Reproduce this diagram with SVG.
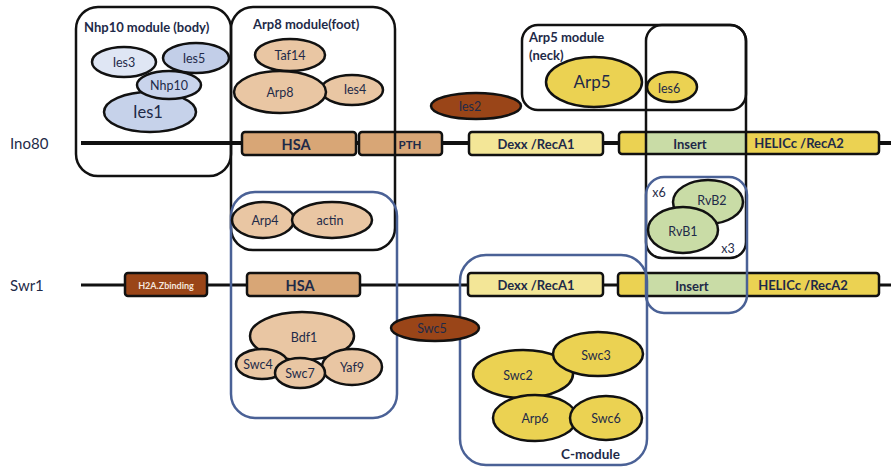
<svg xmlns="http://www.w3.org/2000/svg" width="891" height="469" viewBox="0 0 891 469">
<style>
text{font-family:Lato,"Liberation Sans",sans-serif;fill:#1e2a48;text-anchor:middle;dominant-baseline:central}
.mod{fill:none;stroke:#111;stroke-width:2.5}
.blue{fill:none;stroke:#4a6196;stroke-width:2.5}
.e{stroke:#111;stroke-width:2.5}
.dom{stroke:#111;stroke-width:2.5}
.tan{fill:#e9c6a3}
.hsa{fill:#d8a676}
.brown{fill:#9a4518}
.yel{fill:#ebd252}
.pale{fill:#f3e697}
.grn{fill:#c9dca6}
.dt{font-weight:bold;font-size:13px}
.t{font-size:12.5px}
.mt{font-weight:bold;font-size:13px;text-anchor:start}
.lbl{font-size:15px;text-anchor:start}
</style>

<!-- backbone lines -->
<g id="connectors">
<line x1="81" y1="143" x2="891" y2="143" stroke="#111" stroke-width="4"/>
<line x1="81" y1="285" x2="891" y2="285" stroke="#111" stroke-width="3"/>
</g>

<g id="labels">
<text class="lbl" x="10" y="143">Ino80</text>
<text class="lbl" x="10" y="285">Swr1</text>
</g>

<!-- Ino80 domains -->
<g id="ino80-hsa"><rect class="dom hsa" x="242" y="132" width="114" height="23" rx="3"/><text class="dt" x="296" y="144" style="font-size:14.5px">HSA</text></g>
<g id="ino80-pth"><rect class="dom hsa" x="359" y="132" width="83" height="23" rx="3"/><text class="dt" x="410" y="144" style="font-size:11.5px">PTH</text></g>
<g id="ino80-dexx"><rect class="dom pale" x="469" y="132" width="134" height="23" rx="3"/><text class="dt" x="536" y="144">Dexx /RecA1</text></g>
<g id="ino80-helicc">
<rect class="yel" x="619" y="132" width="260" height="22" rx="3"/>
<rect class="grn" x="646" y="133" width="100" height="20"/>
<rect class="dom" fill="none" x="619" y="132" width="260" height="22" rx="3"/>
<text class="dt" x="690" y="144">Insert</text>
<text class="dt" x="799" y="143">HELICc /RecA2</text>
</g>

<!-- Swr1 domains -->
<g id="swr1-h2az"><rect class="dom brown" x="125" y="273" width="82" height="23" rx="3"/><text x="166" y="285" style="font-size:9px;font-weight:bold;fill:#f4e6dc">H2A.Zbinding</text></g>
<g id="swr1-hsa"><rect class="dom hsa" x="247" y="273" width="113" height="23" rx="3"/><text class="dt" x="300" y="285" style="font-size:14.5px">HSA</text></g>
<g id="swr1-dexx"><rect class="dom pale" x="468" y="273" width="135" height="23" rx="3"/><text class="dt" x="536" y="285">Dexx /RecA1</text></g>
<g id="swr1-helicc">
<rect class="yel" x="618" y="273" width="261" height="23" rx="3"/>
<rect class="grn" x="646" y="274" width="100" height="21"/>
<rect class="dom" fill="none" x="618" y="273" width="261" height="23" rx="3"/>
<text class="dt" x="692" y="286">Insert</text>
<text class="dt" x="803" y="285">HELICc /RecA2</text>
</g>

<!-- module boxes -->
<g id="nhp10-module"><rect class="mod" x="76" y="7" width="155" height="169" rx="22"/><text class="mt" x="84" y="27">Nhp10 module (body)</text></g>
<g id="arp8-module"><rect class="mod" x="231" y="7" width="164" height="243" rx="22"/><text class="mt" x="253" y="24">Arp8 module(foot)</text></g>
<g id="arp5-module"><rect class="mod" x="522" y="25" width="224" height="85" rx="16"/><text class="mt" x="529" y="37">Arp5 module</text><text class="mt" x="529" y="55">(neck)</text></g>
<g id="ies6-column"><rect class="mod" x="646" y="25" width="100" height="233" rx="16"/></g>

<!-- blue module boxes -->
<g id="swr1-hsa-module"><rect class="blue" x="231" y="192" width="166" height="226" rx="24"/></g>
<g id="c-module"><rect class="blue" x="460" y="255" width="187" height="210" rx="26"/><text class="mt" x="561" y="454" style="font-size:13.5px">C-module</text></g>
<g id="rvb-module"><rect class="blue" x="646" y="177" width="101" height="136" rx="18"/></g>

<!-- Nhp10 module content -->
<g id="ies1"><ellipse class="e" cx="150" cy="112" rx="46" ry="20" fill="#c6d2ea"/><text x="148" y="112" style="font-size:16.5px">Ies1</text></g>
<g id="ies3"><ellipse class="e" cx="124" cy="62" rx="32" ry="15" fill="#dfe6f4"/><text class="t" x="124" y="62">Ies3</text></g>
<g id="ies5"><ellipse class="e" cx="196" cy="58" rx="33" ry="15" fill="#c2cee8"/><text class="t" x="194" y="58">Ies5</text></g>
<g id="nhp10"><ellipse class="e" cx="169" cy="85" rx="32" ry="14" fill="#c9d4ec"/><text class="t" x="169" y="85">Nhp10</text></g>

<!-- Arp8 module content -->
<g id="taf14"><ellipse class="e tan" cx="290" cy="55" rx="35" ry="16"/><text class="t" x="290" y="55">Taf14</text></g>
<g id="ies4"><ellipse class="e tan" cx="352" cy="90" rx="31" ry="15"/><text class="t" x="355" y="89">Ies4</text></g>
<g id="arp8"><ellipse class="e tan" cx="280" cy="92" rx="46" ry="21"/><text class="t" x="280" y="92">Arp8</text></g>
<g id="arp4"><ellipse class="e tan" cx="263" cy="220" rx="31" ry="18"/><text class="t" x="265" y="220">Arp4</text></g>
<g id="actin"><ellipse class="e tan" cx="332" cy="220" rx="40" ry="18"/><text class="t" x="330" y="220">actin</text></g>

<!-- Arp5 module content -->
<g id="arp5"><ellipse class="e yel" cx="594" cy="82" rx="48" ry="25"/><text x="592" y="81" style="font-size:17px">Arp5</text></g>
<g id="ies6"><ellipse class="e yel" cx="672" cy="87" rx="25" ry="15"/><text class="t" x="669" y="88">Ies6</text></g>
<g id="ies2"><ellipse class="e brown" cx="476" cy="106" rx="45" ry="13"/><text class="t" x="470" y="106">Ies2</text></g>

<!-- RvB -->
<g id="rvb2"><ellipse class="e grn" cx="708" cy="202" rx="35" ry="22"/><text class="t" x="712" y="200">RvB2</text></g>
<g id="rvb1"><ellipse class="e grn" cx="683" cy="230" rx="35" ry="23"/><text class="t" x="683" y="231">RvB1</text></g>
<g id="rvb-labels"><text class="t" x="659" y="192">x6</text><text class="t" x="728" y="248">x3</text></g>

<!-- Swr1 HSA module content -->
<g id="bdf1"><ellipse class="e tan" cx="302" cy="336" rx="52" ry="24"/><text class="t" x="304" y="337">Bdf1</text></g>
<g id="swc4"><ellipse class="e tan" cx="262" cy="364" rx="26" ry="15"/><text class="t" x="258" y="364">Swc4</text></g>
<g id="yaf9"><ellipse class="e tan" cx="352" cy="367" rx="30" ry="18"/><text class="t" x="352" y="367">Yaf9</text></g>
<g id="swc7"><ellipse class="e tan" cx="300" cy="373" rx="25" ry="15"/><text class="t" x="300" y="373">Swc7</text></g>

<g id="swc5"><ellipse class="e brown" cx="435" cy="328" rx="44" ry="13"/><text class="t" x="432" y="328">Swc5</text></g>

<!-- C-module content -->
<g id="swc2"><ellipse class="e yel" cx="523" cy="374" rx="50" ry="24"/><text class="t" x="518" y="375">Swc2</text></g>
<g id="swc3"><ellipse class="e yel" cx="598" cy="354" rx="45" ry="22"/><text class="t" x="596" y="355">Swc3</text></g>
<g id="arp6"><ellipse class="e yel" cx="535" cy="418" rx="42" ry="23"/><text class="t" x="535" y="418">Arp6</text></g>
<g id="swc6"><ellipse class="e yel" cx="606" cy="418" rx="36" ry="22"/><text class="t" x="606" y="418">Swc6</text></g>
</svg>
